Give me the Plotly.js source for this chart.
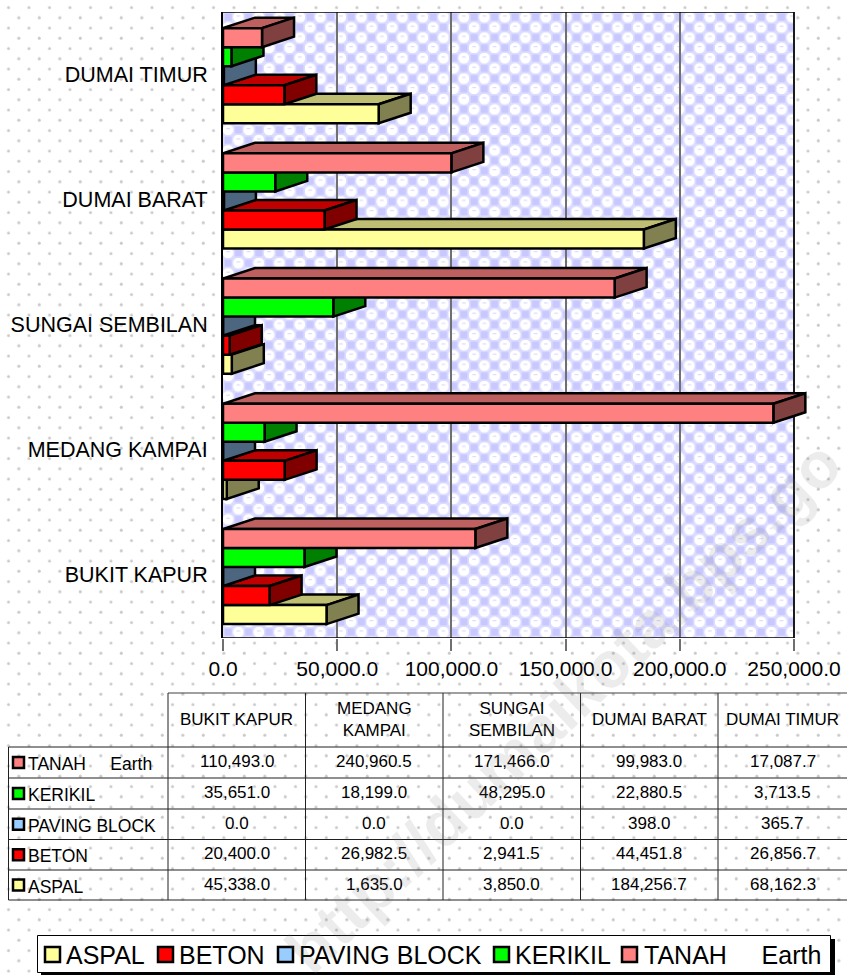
<!DOCTYPE html>
<html>
<head>
<meta charset="utf-8">
<script src="https://cdn.plot.ly/plotly-3.0.1.min.js"></script>
<style>html,body{margin:0;padding:0;background:#fff;overflow:hidden}#chart{width:847px;height:975px}</style>
</head>
<body>
<div id="chart"></div>
<script>
// ---------- data ----------
const categories = ['BUKIT KAPUR', 'MEDANG KAMPAI', 'SUNGAI SEMBILAN', 'DUMAI BARAT', 'DUMAI TIMUR'];
const tableHeaders = ['BUKIT KAPUR', 'MEDANG<br>KAMPAI', 'SUNGAI<br>SEMBILAN', 'DUMAI BARAT', 'DUMAI TIMUR'];
const seriesNames = ['ASPAL', 'BETON', 'PAVING BLOCK', 'KERIKIL', 'TANAH\u00A0\u00A0\u00A0\u00A0\u00A0Earth'];
const aspal = [45338.0, 1635.0, 3850.0, 184256.7, 68162.3];
const beton = [20400.0, 26982.5, 2941.5, 44451.8, 26856.7];
const paving = [0.0, 0.0, 0.0, 398.0, 365.7];
const kerikil = [35651.0, 18199.0, 48295.0, 22880.5, 3713.5];
const tanah = [110493.0, 240960.5, 171466.0, 99983.0, 17087.7];
const tickValues = [0, 50000, 100000, 150000, 200000, 250000];

const frontColors = ['#FFFF99', '#FF0000', '#99CCFF', '#00FF00', '#FF8080'];
const topColors = ['#BFBF73', '#BF0000', '#7399BF', '#00BF00', '#BF6060'];
const sideColors = ['#808050', '#800000', '#4D6680', '#008000', '#804040'];

const series = [aspal, beton, paving, kerikil, tanah];

// ---------- page geometry (pixels of the 847x975 page) ----------
const W = 847, H = 975;
const px = v => v / W, py = v => 1 - v / H;
const frameL = 223, frameR = 794, frameT = 12, frameB = 638;
const domainR = 815;
const xMax = 250000;
const unitsPerPx = xMax / (frameR - frameL);
const xEnd = (domainR - frameL) * unitsPerPx;
const yMin = -0.491, yMax = yMin + 5;
const unitPx = (frameB - frameT) / 5;
const barGap = 0.24;
const barH = (1 - barGap) / 5;
const depthX = 32 * unitsPerPx, depthY = 10.5 / unitPx;
const edge = {color: '#000', width: 2.5};

// ---------- background tiles ----------
function svgURI(w, h, defs) {
  const s = `<svg xmlns="http://www.w3.org/2000/svg" width="${w}" height="${h}" viewBox="0 0 ${w} ${h}">` +
    `<defs>${defs}</defs><rect width="${w}" height="${h}" fill="url(#p)"/></svg>`;
  return 'data:image/svg+xml;base64,' + btoa(s);
}
const dotsTile = svgURI(W, H,
  `<pattern id="p" width="20.5" height="20.5" patternUnits="userSpaceOnUse">` +
  `<circle cx="8.5" cy="7.5" r="1.5" fill="#c9c9c9"/><circle cx="18.8" cy="17.7" r="1.5" fill="#c9c9c9"/></pattern>`);
const checkTile = svgURI(frameR - frameL, frameB - frameT,
  `<pattern id="p" width="20.5" height="20.5" patternUnits="userSpaceOnUse">` +
  `<rect width="20.5" height="20.5" fill="#dcdcff"/>` +
  `<circle cx="15.4" cy="5.1" r="5.4" fill="#fff"/><circle cx="5.1" cy="15.4" r="5.4" fill="#fff"/>` +
  `<rect x="1.6" y="1.6" width="7" height="7" fill="#c8c8ff"/><rect x="11.9" y="11.9" width="7" height="7" fill="#c8c8ff"/>` +
  `<rect x="13.6" y="3.4" width="3.6" height="1" fill="#d4d4ff"/><rect x="3.3" y="13.7" width="3.6" height="1" fill="#d4d4ff"/></pattern>`);

// ---------- traces ----------
const yIndex = categories.map((_, i) => i);
const traces = series.map((vals, k) => ({
  type: 'bar', orientation: 'h', name: seriesNames[k],
  x: vals, y: yIndex,
  marker: {color: frontColors[k], line: edge},
  hoverinfo: 'x+name', cliponaxis: false
}));

// ---------- 3-D faces, derived from the values ----------
const shapes = [];
function poly(pts, fill) {
  shapes.push({type: 'path', xref: 'x', yref: 'y', layer: 'between',
    path: 'M' + pts.map(p => p[0] + ',' + p[1]).join('L') + 'Z',
    fillcolor: fill, line: edge});
}
function axisLine(x0, y0, x1, y1, color, width) {
  shapes.push({type: 'line', xref: 'x', yref: 'y', layer: 'between', x0, y0, x1, y1, line: {color, width}});
}
axisLine(0, yMax, xMax, yMax, '#000', 1.5);
axisLine(xMax, yMin, xMax, yMax, '#000', 1.5);
axisLine(0, yMin, xMax, yMin, '#000', 1.5);

series.forEach((vals, k) => {
  vals.forEach((v, i) => {
    const c = i + (k - 2) * barH, t = c + barH / 2, b = c - barH / 2;
    poly([[0, t], [depthX, t + depthY], [v + depthX, t + depthY], [v, t]], topColors[k]);
    poly([[v, t], [v + depthX, t + depthY], [v + depthX, b + depthY], [v, b]], sideColors[k]);
  });
});

// ---------- data table and legend (page furniture) ----------
const annotations = [];
function label(x, y, text, size, anchor) {
  annotations.push({xref: 'paper', yref: 'paper', x: px(x), y: py(y), text, showarrow: false,
    xanchor: anchor || 'center', yanchor: 'middle', align: 'center',
    font: {family: 'Liberation Sans, Arial, sans-serif', size, color: '#000'}});
}
function pline(x0, y0, x1, y1, color, width) {
  shapes.push({type: 'line', xref: 'paper', yref: 'paper', layer: 'above',
    x0: px(x0), y0: py(y0), x1: px(x1), y1: py(y1), line: {color, width}});
}
function box(x0, y0, x1, y1, fill, lineColor, width) {
  shapes.push({type: 'rect', xref: 'paper', yref: 'paper', layer: 'above',
    x0: px(x0), y0: py(y0), x1: px(x1), y1: py(y1), fillcolor: fill,
    line: {color: lineColor, width}});
}
const colX = [168, 305.5, 443, 580.5, 718, 847];
const rowY = [693, 747, 778, 809, 839.5, 870, 900];
pline(168, rowY[0], 847, rowY[0], '#404040', 1);
rowY.slice(1).forEach(y => pline(8.5, y, 847, y, '#202020', 1));
pline(8.5, rowY[1], 8.5, rowY[6], '#202020', 1);
colX.slice(0, 5).forEach(x => pline(x, rowY[0], x, rowY[6], '#202020', 1));
tableHeaders.forEach((t, c) => label((colX[c] + colX[c + 1]) / 2, (rowY[0] + rowY[1]) / 2 - 0.5, t, 17));
const fmt = v => v.toLocaleString('en-US', {minimumFractionDigits: 1, maximumFractionDigits: 1});
for (let r = 0; r < 5; r++) {
  const k = 4 - r, cy = (rowY[r + 1] + rowY[r + 2]) / 2;
  box(13, cy - 5.5, 24, cy + 5.5, frontColors[k], '#000', 2.5);
  label(26, cy + 1.5, seriesNames[k], 17.5, 'left');
  series[k].forEach((v, c) => label((colX[c] + colX[c + 1]) / 2, cy - 1, fmt(v), 17));
}

// legend
box(41, 939, 835, 975, '#000', '#000', 0);
box(37.5, 935.5, 830.5, 972.5, '#fff', '#000', 1);
const legendSwatch = [45, 158, 278, 494, 622];
const legendText = [64, 177, 297, 513, 642];
seriesNames.forEach((n, k) => {
  box(legendSwatch[k], 947, legendSwatch[k] + 15, 962, frontColors[k], '#000', 2.5);
  label(legendText[k], 955, n, 25, 'left');
});

// watermark
annotations.push({xref: 'paper', yref: 'paper', x: px(563.5), y: py(706.5), showarrow: false,
  text: '<b>http://dumaikota.bps.go</b>', textangle: -43.6, xanchor: 'center', yanchor: 'middle',
  font: {family: 'Liberation Sans, Arial, sans-serif', size: 65, color: 'rgba(120,120,120,0.14)'}});

// ---------- layout ----------
const layout = {
  width: W, height: H, autosize: false,
  margin: {l: 0, r: 0, t: 0, b: 0, pad: 0},
  paper_bgcolor: 'rgba(0,0,0,0)', plot_bgcolor: 'rgba(0,0,0,0)',
  showlegend: false, barmode: 'group', bargap: barGap, bargroupgap: 0,
  font: {family: 'Liberation Sans, Arial, sans-serif', color: '#000'},
  xaxis: {
    domain: [px(frameL), px(domainR)], range: [0, xEnd], type: 'linear',
    tickmode: 'array', tickvals: tickValues, tickformat: ',.1f',
    ticks: 'outside', ticklen: 12, tickwidth: 1.5, tickcolor: '#707070',
    showgrid: true, gridcolor: '#707070', gridwidth: 1.5, zeroline: false, showline: false,
    tickfont: {size: 21}, automargin: false, ticklabeloverflow: 'allow', anchor: 'y'
  },
  yaxis: {
    domain: [py(frameB), py(frameT)], range: [yMin, yMax], type: 'linear',
    tickmode: 'array', tickvals: yIndex.map(i => i + 0.014), ticktext: categories,
    ticks: '', showgrid: false, zeroline: false, showline: true, linecolor: '#000', linewidth: 2,
    tickfont: {size: 21.5}, automargin: false, ticklabelstandoff: 9, anchor: 'x'
  },
  images: [
    {source: dotsTile, xref: 'paper', yref: 'paper', x: 0, y: 1, sizex: 1, sizey: 1,
     xanchor: 'left', yanchor: 'top', sizing: 'stretch', layer: 'below'},
    {source: checkTile, xref: 'x', yref: 'y', x: 0, y: yMax, sizex: xMax, sizey: yMax - yMin,
     xanchor: 'left', yanchor: 'top', sizing: 'stretch', layer: 'below'}
  ],
  shapes, annotations
};
Plotly.newPlot('chart', traces, layout, {displayModeBar: false, responsive: false});
</script>
</body>
</html>
